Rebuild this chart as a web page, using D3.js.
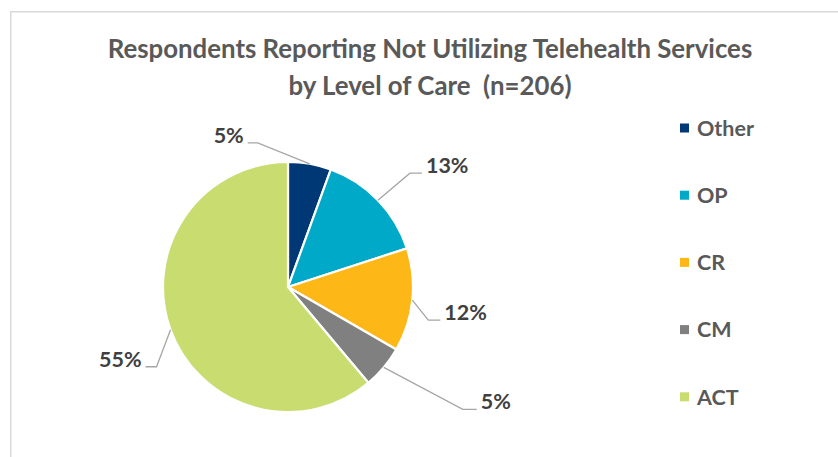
<!DOCTYPE html>
<html>
<head>
<meta charset="utf-8">
<script src="https://cdn.jsdelivr.net/npm/d3@7/dist/d3.min.js"></script>
<style>
  html, body { margin: 0; padding: 0; background: #fff; }
  svg { display: block; }
  text { font-family: Lato, "Open Sans", sans-serif; font-weight: 700; }
</style>
</head>
<body>
<svg id="chart" width="838" height="457"></svg>
<script>
// Level-of-care breakdown (percent of respondents)
const categories = ["Other", "OP", "CR", "CM", "ACT"];
const values = [5, 13, 12, 5, 55];
const colors = ["#003876", "#00A9C7", "#FDB818", "#808080", "#C9DC6F"];
const titleLines = [
  "Respondents Reporting Not Utilizing Telehealth Services",
  "by Level of Care  (n=206)"
];

// Leader-line layout: elbow offset from the slice edge, then a short horizontal run
const leaderLayout = [
  { dx: -52, dy: -21, run: -10 },
  { dx: 32, dy: -27, run: 12 },
  { dx: 16, dy: 20, run: 12 },
  { dx: 79, dy: 42, run: 14 },
  { dx: -14, dy: 37, run: -11 }
];

const W = 838, H = 457;
const cx = 288, cy = 287, R = 125;

const svg = d3.select("#chart");

// outer frame
svg.append("rect")
  .attr("x", 10.75).attr("y", 11.75)
  .attr("width", W + 20).attr("height", H + 20)
  .attr("fill", "none")
  .attr("stroke", "#d9d9d9")
  .attr("stroke-width", 1.5);

// title
svg.append("g").selectAll("text")
  .data(titleLines)
  .join("text")
  .attr("x", 430)
  .attr("y", (d, i) => 58 + i * 37)
  .attr("text-anchor", "middle")
  .attr("fill", "#595959")
  .attr("font-size", 25.8)
  .style("white-space", "pre")
  .text(d => d);

const color = d3.scaleOrdinal().domain(categories).range(colors);

const pie = d3.pie().sort(null).value(d => d.value);
const data = categories.map((c, i) => ({ name: c, value: values[i], layout: leaderLayout[i] }));
const arcs = pie(data);

const arc = d3.arc().innerRadius(0).outerRadius(R);

const g = svg.append("g").attr("transform", `translate(${cx},${cy})`);

g.selectAll("path.slice")
  .data(arcs)
  .join("path")
  .attr("class", "slice")
  .attr("d", arc)
  .attr("fill", d => color(d.data.name))
  .attr("stroke", "#fff")
  .attr("stroke-width", 2.2)
  .attr("stroke-linejoin", "round");

// leader lines and value labels
const edgePoint = d => {
  const a = (d.startAngle + d.endAngle) / 2;
  return [R * Math.sin(a), -R * Math.cos(a)];
};

const labels = g.append("g");
arcs.forEach(d => {
  const [x0, y0] = edgePoint(d);
  const L = d.data.layout;
  const x1 = x0 + L.dx, y1 = y0 + L.dy;
  const x2 = x1 + L.run;
  labels.append("polyline")
    .attr("points", [[x0, y0], [x1, y1], [x2, y1]].map(p => p.join(",")).join(" "))
    .attr("fill", "none")
    .attr("stroke", "#a6a6a6")
    .attr("stroke-width", 1.3);
  const right = L.run > 0;
  labels.append("text")
    .attr("x", x2 + (right ? 4 : -4))
    .attr("y", y1)
    .attr("text-anchor", right ? "start" : "end")
    .attr("fill", "#404040")
    .attr("font-size", 21.5)
    .text(d.data.value + "%");
});

// legend
const legend = svg.append("g").selectAll("g")
  .data(categories)
  .join("g")
  .attr("transform", (d, i) => `translate(680, ${128 + i * 67.2})`);

legend.append("rect")
  .attr("x", 0).attr("y", -4.5)
  .attr("width", 9).attr("height", 9)
  .attr("fill", d => color(d));

legend.append("text")
  .attr("x", 17)
  .attr("y", 0)
  .attr("dy", "0.36em")
  .attr("fill", "#595959")
  .attr("font-size", 21.5)
  .text(d => d);
</script>
</body>
</html>
